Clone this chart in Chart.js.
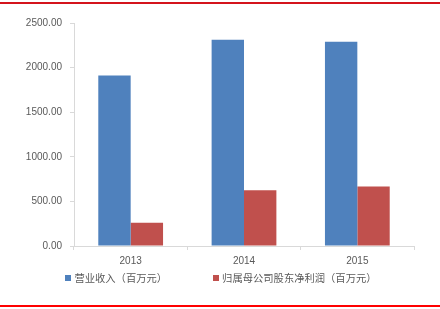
<!DOCTYPE html>
<html>
<head>
<meta charset="utf-8">
<script src="https://cdn.jsdelivr.net/npm/chart.js@4/dist/chart.umd.min.js"></script>
<style>
  html, body { margin: 0; padding: 0; background: #fff; }
  #wrap { position: relative; width: 440px; height: 309px; }
  #chart { position: absolute; left: 0; top: 0; }
  .rule { position: absolute; left: 0; width: 440px; height: 2px; }
  #ruleTop { top: 2px; background: #d4141c; }
  #ruleBottom { top: 305px; background: #ff0000; }
  #legend {
    position: absolute; left: 0; top: 271px; width: 442px;
    display: flex; justify-content: center; gap: 46px;
    font: 10.3px 'Noto Sans CJK SC', sans-serif;
    color: #595959; line-height: 14px;
  }
  #legend .item { display: flex; align-items: center; white-space: nowrap; }
  #legend .box { width: 6px; height: 6px; margin-right: 3px; }
</style>
</head>
<body>
<div id="wrap">
  <canvas id="chart" width="440" height="309"></canvas>
  <div id="legend"></div>
  <div class="rule" id="ruleTop"></div>
  <div class="rule" id="ruleBottom"></div>
</div>
<script>
// DATA
const years = ["2013", "2014", "2015"];
const revenue = [1911, 2313, 2291];
const netProfit = [260, 625, 666];
const seriesNames = ["营业收入（百万元）", "归属母公司股东净利润（百万元）"];
const seriesColors = ["#4f81bd", "#c0504d"];
const yTicks = [0, 500, 1000, 1500, 2000, 2500];

const fontFamily = "'Liberation Sans', 'Noto Sans CJK SC', sans-serif";
const textColor = "#595959";
const axisColor = "#d9d9d9";

const config = {
  type: "bar",
  data: {
    labels: years,
    datasets: [
      {
        label: seriesNames[0],
        data: revenue,
        backgroundColor: seriesColors[0],
        borderWidth: 0,
      },
      {
        label: seriesNames[1],
        data: netProfit,
        backgroundColor: seriesColors[1],
        borderWidth: 0,
      },
    ],
  },
  options: {
    responsive: false,
    animation: false,
    devicePixelRatio: 1,
    layout: {
      padding: { left: 0, right: 26, top: 23, bottom: 43 },
    },
    datasets: {
      bar: { categoryPercentage: 2 / 3.5, barPercentage: 1 },
    },
    scales: {
      x: {
        grid: {
          drawOnChartArea: false,
          color: axisColor,
          tickLength: 4,
        },
        border: { color: axisColor },
        ticks: {
          color: textColor,
          font: { family: fontFamily, size: 10 },
          padding: 5,
        },
        afterFit: (scale) => {
          scale.height = 20;
        },
      },
      y: {
        min: 0,
        max: 2500,
        afterBuildTicks: (scale) => {
          scale.ticks = yTicks.map((v) => ({ value: v }));
        },
        grid: {
          drawOnChartArea: false,
          color: axisColor,
          tickLength: 4,
        },
        border: { color: axisColor },
        ticks: {
          color: textColor,
          font: { family: fontFamily, size: 10 },
          padding: 8,
          callback: (v) => Number(v).toFixed(2),
        },
        afterFit: (scale) => {
          scale.width = 74;
        },
      },
    },
    plugins: {
      tooltip: { enabled: false },
      legend: { display: false },
    },
  },
};

const chart = new Chart(document.getElementById("chart"), config);

// html legend built from the datasets
const legendEl = document.getElementById("legend");
chart.data.datasets.forEach((ds) => {
  const item = document.createElement("div");
  item.className = "item";
  const box = document.createElement("span");
  box.className = "box";
  box.style.background = ds.backgroundColor;
  const label = document.createElement("span");
  label.textContent = ds.label;
  item.appendChild(box);
  item.appendChild(label);
  legendEl.appendChild(item);
});
</script>
</body>
</html>
